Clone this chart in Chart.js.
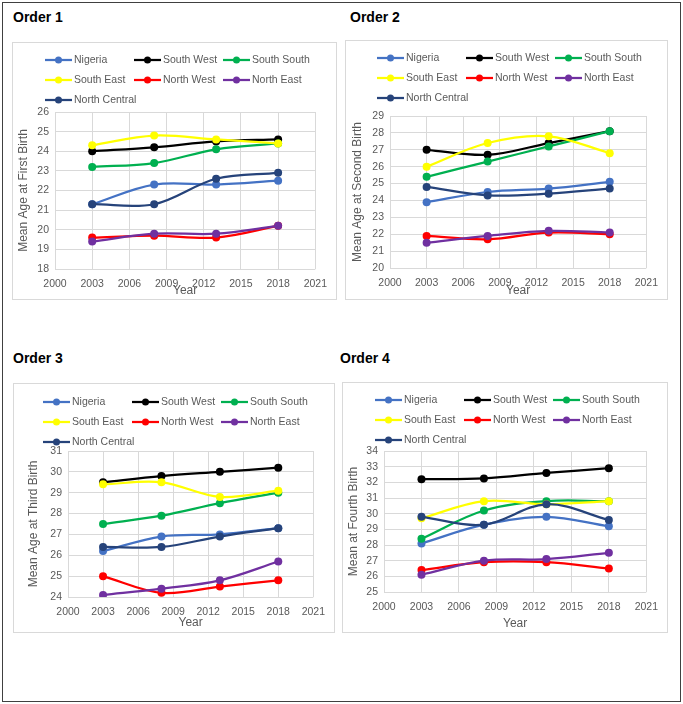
<!DOCTYPE html>
<html>
<head>
<meta charset="utf-8">
<script src="https://cdn.jsdelivr.net/npm/chart.js@4"></script>
<style>
  body { margin: 0; background: #fff; font-family: 'Liberation Sans', Arial, sans-serif; }
  #frame { position: absolute; left: 2px; top: 2px; width: 677px; height: 698px; border: 1px solid #404040; }
  .ttl { position: absolute; font-weight: bold; font-size: 14px; line-height: 16px; color: #000; }
  .box { position: absolute; border: 1px solid #d9d9d9; background: #fff; }
  .box canvas { display: block; }
</style>
</head>
<body>
<div id="frame"></div>

<div class="ttl" style="left:13px;top:9px">Order 1</div>
<div class="ttl" style="left:350px;top:9px">Order 2</div>
<div class="ttl" style="left:13px;top:350px">Order 3</div>
<div class="ttl" style="left:340px;top:350px">Order 4</div>

<div class="box" style="left:12px;top:42px"><canvas id="c1" width="323" height="256"></canvas></div>
<div class="box" style="left:345px;top:40px"><canvas id="c2" width="321" height="258"></canvas></div>
<div class="box" style="left:13px;top:383px"><canvas id="c3" width="320" height="248"></canvas></div>
<div class="box" style="left:342px;top:382px"><canvas id="c4" width="324" height="249"></canvas></div>

<script>
// survey years and regions
const years = [2003, 2008, 2013, 2018];
const regions = ['Nigeria', 'South West', 'South South', 'South East', 'North West', 'North East', 'North Central'];
const colors = ['#4472c4', '#000000', '#00b050', '#ffff00', '#ff0000', '#7030a0', '#26437a'];
const xTicks = [2000, 2003, 2006, 2009, 2012, 2015, 2018, 2021];

// mean age at first birth, one row per region (same order as regions)
const order1 = [
  [21.3, 22.3, 22.3, 22.5],
  [24.0, 24.2, 24.5, 24.6],
  [23.2, 23.4, 24.1, 24.4],
  [24.3, 24.8, 24.6, 24.4],
  [19.6, 19.7, 19.6, 20.2],
  [19.4, 19.8, 19.8, 20.2],
  [21.3, 21.3, 22.6, 22.9]
];
// second birth
const order2 = [
  [23.9, 24.5, 24.7, 25.1],
  [27.0, 26.7, 27.4, 28.1],
  [25.4, 26.3, 27.2, 28.1],
  [26.0, 27.4, 27.8, 26.8],
  [21.9, 21.7, 22.1, 22.0],
  [21.5, 21.9, 22.2, 22.1],
  [24.8, 24.3, 24.4, 24.7]
];
// third birth
const order3 = [
  [26.2, 26.9, 27.0, 27.3],
  [29.5, 29.8, 30.0, 30.2],
  [27.5, 27.9, 28.5, 29.0],
  [29.4, 29.5, 28.8, 29.1],
  [25.0, 24.2, 24.5, 24.8],
  [24.1, 24.4, 24.8, 25.7],
  [26.4, 26.4, 26.9, 27.3]
];
// fourth birth
const order4 = [
  [28.1, 29.3, 29.8, 29.2],
  [32.2, 32.25, 32.6, 32.9],
  [28.4, 30.2, 30.8, 30.8],
  [29.7, 30.8, 30.6, 30.8],
  [26.4, 26.9, 26.9, 26.5],
  [26.1, 27.0, 27.1, 27.5],
  [29.8, 29.3, 30.6, 29.6]
];

const FONT = "'Liberation Sans', Arial, sans-serif";
const GREY = '#595959';

// legend laid out in a 3 column grid like the excel one
const gridLegend = {
  id: 'gridLegend',
  afterDraw(chart, args, opts) {
    const ctx = chart.ctx;
    ctx.save();
    ctx.font = '10.5px ' + FONT;
    ctx.textBaseline = 'middle';
    chart.data.datasets.forEach((ds, i) => {
      const x = opts.x + (i % 3) * 89;
      const y = opts.y + Math.floor(i / 3) * 20;
      ctx.strokeStyle = ds.borderColor;
      ctx.lineWidth = 2.25;
      ctx.beginPath();
      ctx.moveTo(x, y);
      ctx.lineTo(x + 27, y);
      ctx.stroke();
      ctx.fillStyle = ds.borderColor;
      ctx.beginPath();
      ctx.arc(x + 13.5, y, 3.5, 0, Math.PI * 2);
      ctx.fill();
      ctx.fillStyle = GREY;
      ctx.fillText(ds.label, x + 29, y);
    });
    ctx.restore();
  }
};

function makeChart(id, values, yMin, yMax, yTitle, g) {
  const canvas = document.getElementById(id);
  const datasets = regions.map((name, i) => ({
    label: name,
    data: years.map((yr, j) => ({ x: yr, y: values[i][j] })),
    borderColor: colors[i],
    backgroundColor: colors[i],
    borderWidth: 2.25,
    pointRadius: 4,
    pointBorderWidth: 0,
    tension: 0.35,
    order: regions.length - i
  }));
  return new Chart(canvas, {
    type: 'line',
    data: { datasets },
    plugins: [gridLegend],
    options: {
      responsive: false,
      animation: false,
      layout: { padding: { left: 0, top: g.top, right: canvas.width - g.right, bottom: 0 } },
      plugins: {
        legend: { display: false },
        tooltip: { enabled: false },
        gridLegend: { x: g.legX, y: g.legY }
      },
      scales: {
        x: {
          type: 'linear',
          min: 2000,
          max: 2021,
          afterBuildTicks: s => { s.ticks = xTicks.map(v => ({ value: v })); },
          afterFit: s => { s.height = canvas.height - g.bottom; },
          grid: { color: '#d9d9d9', drawTicks: false },
          border: { display: false },
          ticks: { color: GREY, font: { family: FONT, size: 10.5 }, padding: 9, maxRotation: 0, callback: v => String(v) },
          title: { display: true, text: 'Year', color: GREY, font: { family: FONT, size: 12 }, padding: { top: 0, bottom: g.yearPad } }
        },
        y: {
          min: yMin,
          max: yMax,
          afterFit: s => { s.width = g.left; },
          grid: { color: '#d9d9d9', drawTicks: false },
          border: { display: false },
          ticks: { stepSize: 1, color: GREY, font: { family: FONT, size: 10.5 }, padding: 6 },
          title: { display: true, text: yTitle, color: GREY, font: { family: FONT, size: 12 }, padding: { top: g.yTitlePad, bottom: 0 } }
        }
      }
    }
  });
}

makeChart('c1', order1, 18, 26, 'Mean Age at First Birth',
  { left: 42, right: 305, top: 69, bottom: 226, yearPad: 1, yTitlePad: 3, legX: 32, legY: 17 });
makeChart('c2', order2, 20, 29, 'Mean Age at Second Birth',
  { left: 44, right: 301, top: 75, bottom: 227, yearPad: 1, yTitlePad: 4, legX: 31, legY: 17 });
makeChart('c3', order3, 24, 31, 'Mean Age at Third Birth',
  { left: 54, right: 300, top: 67, bottom: 213, yearPad: 2, yTitlePad: 12, legX: 29, legY: 18 });
makeChart('c4', order4, 25, 34, 'Mean at Fourth Birth',
  { left: 41, right: 304, top: 68, bottom: 209, yearPad: 1, yTitlePad: 3, legX: 32, legY: 17 });
</script>
</body>
</html>
